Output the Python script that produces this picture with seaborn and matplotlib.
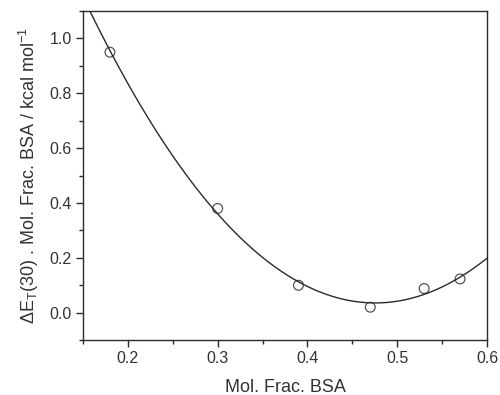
import matplotlib
matplotlib.use("Agg")
import matplotlib.pyplot as plt
import seaborn as sns
import pandas as pd
from matplotlib.ticker import MultipleLocator

mol_frac_bsa = [0.18, 0.30, 0.39, 0.47, 0.53, 0.57]
delta_et = [0.95, 0.38, 0.10, 0.02, 0.088, 0.123]

df = pd.DataFrame({"x": mol_frac_bsa, "y": delta_et})

sns.set_theme(style="ticks")
plt.rcParams["font.family"] = ["Liberation Sans", "DejaVu Sans"]
plt.rcParams["mathtext.fontset"] = "custom"
plt.rcParams["mathtext.rm"] = "Liberation Sans"
plt.rcParams["mathtext.it"] = "Liberation Sans:italic"

fig = plt.figure(figsize=(5.0, 3.95), dpi=100)
ax = fig.add_axes([0.166, 0.139, 0.808, 0.833])
ax.set_xlim(0.15, 0.6)
ax.set_ylim(-0.1, 1.1)

sns.regplot(data=df, x="x", y="y", order=2, ci=None, truncate=False, ax=ax,
            scatter_kws=dict(s=50, facecolors="none", edgecolors="#2a2a2a", linewidths=0.9),
            line_kws=dict(color="#2a2a2a", lw=1.0))

ax.set_xlim(0.15, 0.6)
ax.set_ylim(-0.1, 1.1)
ax.xaxis.set_minor_locator(MultipleLocator(0.05))
ax.yaxis.set_minor_locator(MultipleLocator(0.1))
ax.set_xticks([0.2, 0.3, 0.4, 0.5, 0.6])
ax.set_xticklabels(["0.2", "0.3", "0.4", "0.5", "0.6"])
ax.set_yticks([0.0, 0.2, 0.4, 0.6, 0.8, 1.0])
ax.set_yticklabels(["0.0", "0.2", "0.4", "0.6", "0.8", "1.0"])

for s in ax.spines.values():
    s.set_color("#2a2a2a")
    s.set_linewidth(1.0)
ax.tick_params(which="major", direction="out", length=5, width=1.0, color="#2a2a2a",
               labelsize=11.5, labelcolor="#333333", pad=3, top=False, right=False)
ax.tick_params(which="minor", direction="out", length=3, width=1.0, color="#2a2a2a",
               top=False, right=False)

ax.set_xlabel("Mol. Frac. BSA", fontsize=13, color="#333333", labelpad=9)
ax.set_ylabel(r"$\Delta$E$_\mathrm{T}$(30) . Mol. Frac. BSA / kcal mol$^\mathrm{-1}$",
              fontsize=13, color="#333333", labelpad=6)

fig.savefig("out.png", dpi=100)
